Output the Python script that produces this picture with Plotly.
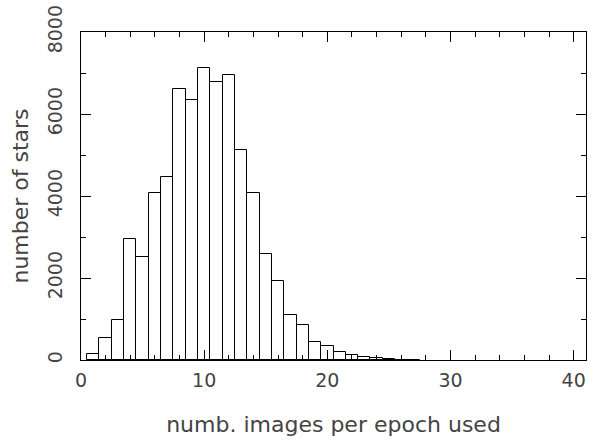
import plotly.graph_objects as go

# histogram: number of stars vs number of images per epoch used (bins of width 1, centred on integers)
images_per_epoch = list(range(1, 28))
n_stars = [150, 540, 975, 2950, 2510, 4070, 4460, 6610, 6340, 7120,
           6780, 6950, 5120, 4070, 2590, 1930, 1100, 850, 440, 340,
           195, 120, 70, 40, 15, 8, 5]

x_ticks = [0, 10, 20, 30, 40]
y_ticks = [0, 2000, 4000, 6000, 8000]

FONT = "DejaVu Sans"
TXT = "#444444"

fig = go.Figure()
fig.add_trace(go.Bar(
    x=images_per_epoch, y=n_stars, width=1,
    marker=dict(color="white", line=dict(color="black", width=1)),
    showlegend=False,
))

fig.update_layout(
    width=609, height=445,
    margin=dict(l=81, r=23, t=32, b=85),
    paper_bgcolor="white", plot_bgcolor="white",
    bargap=0,
    font=dict(family=FONT, size=20, color=TXT),
    xaxis=dict(
        range=[0, 41], tickvals=x_ticks, ticktext=[str(v) for v in x_ticks],
        ticks="inside", ticklen=10, tickcolor="black", tickwidth=1,
        minor=dict(dtick=2, tick0=0, ticks="inside", ticklen=5, tickcolor="black"),
        showline=True, linecolor="black", linewidth=1, mirror="ticks",
        showgrid=False, zeroline=False, automargin=False,
        ticklabelstandoff=3, ticklabeloverflow="allow",
        tickfont=dict(family=FONT, size=19, color=TXT),
        title=dict(text="numb. images per epoch used", standoff=26,
                   font=dict(family=FONT, size=22, color=TXT)),
    ),
    yaxis=dict(
        range=[0, 8000], tickvals=y_ticks, ticktext=[str(v) for v in y_ticks],
        ticks="inside", ticklen=10, tickcolor="black", tickwidth=1,
        minor=dict(dtick=1000, tick0=0, ticks="inside", ticklen=5, tickcolor="black"),
        showline=True, linecolor="black", linewidth=1, mirror="ticks",
        showgrid=False, zeroline=False, tickangle=-90, automargin=False,
        ticklabelstandoff=10, ticklabeloverflow="allow",
        tickfont=dict(family=FONT, size=19, color=TXT),
        title=dict(text="number of stars", standoff=9,
                   font=dict(family=FONT, size=22, color=TXT)),
    ),
)

# remove the page's default body margin so the chart sits at the window's corner
fig.write_html("out.html", config={"displayModeBar": False},
               post_script="document.body.style.margin='0';")
